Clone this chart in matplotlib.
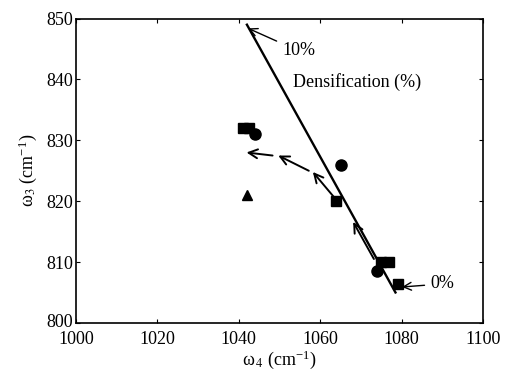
import matplotlib
matplotlib.use('Agg')
import matplotlib.pyplot as plt
import matplotlib.transforms as mtransforms

plt.rcParams['font.family'] = ['Liberation Serif', 'DejaVu Serif']
plt.rcParams['mathtext.fontset'] = 'stix'

# data
sq_x = [1041, 1042.5, 1064, 1075, 1077, 1079]
sq_y = [832, 832, 820, 810, 810, 806.4]
circ_x = [1044, 1065, 1074]
circ_y = [831, 826, 808.5]
tri_x = [1042]
tri_y = [821]

fit_x = [1042, 1078.5]
fit_y = [849, 805]

# arrows: (tail x, tail y, head x, head y)
path_arrows = [
    (1073.2, 810.5, 1068.1, 816.6),
    (1063.6, 820.5, 1058.2, 824.8),
    (1057.2, 825.0, 1049.7, 827.5),
    (1048.3, 827.5, 1041.9, 828.0),
]

fig = plt.figure(figsize=(5.1, 3.72), dpi=100)
ax = fig.add_axes([0.149, 0.132, 0.798, 0.818])

ax.plot(fit_x, fit_y, color='black', lw=1.7)
ax.plot(sq_x, sq_y, 's', color='black', ms=7.5, ls='none')
ax.plot(circ_x, circ_y, 'o', color='black', ms=8, ls='none')
ax.plot(tri_x, tri_y, '^', color='black', ms=7.5, ls='none')

for x0, y0, x1, y1 in path_arrows:
    ax.annotate('', xy=(x1, y1), xytext=(x0, y0),
                arrowprops=dict(arrowstyle='->', color='black', lw=1.4,
                                mutation_scale=16, shrinkA=0, shrinkB=0))

ax.annotate('10%', xy=(1042.3, 848.4), xytext=(1050.6, 844.7),
            fontsize=13, va='center', ha='left',
            arrowprops=dict(arrowstyle='->', color='black', lw=1.0,
                            mutation_scale=14, shrinkA=2, shrinkB=0))
ax.annotate('0%', xy=(1080.1, 805.9), xytext=(1087, 806.4),
            fontsize=13, va='center', ha='left',
            arrowprops=dict(arrowstyle='->', color='black', lw=1.0,
                            mutation_scale=14, shrinkA=2, shrinkB=0))
ax.text(1053.3, 839.5, 'Densification (%)', fontsize=13, va='center', ha='left')

ax.set_xlim(1000, 1100)
ax.set_ylim(800, 850)
ax.set_xticks(range(1000, 1101, 20))
ax.set_yticks(range(800, 851, 10))
ax.tick_params(direction='in', top=True, right=True, length=3, labelsize=13)
ax.tick_params(axis='x', pad=6)
ax.tick_params(axis='y', pad=2)
for s in ax.spines.values():
    s.set_linewidth(1.2)

# nudge the 800 label up a little so it clears 1000
lab = ax.get_yticklabels()[0]
lab.set_transform(lab.get_transform() + mtransforms.ScaledTranslation(0, 2 / 72, fig.dpi_scale_trans))

ax.set_xlabel('ω$_{\\,4}$ (cm$^{\\mathregular{-1}}$)', fontsize=13, labelpad=0)
ax.set_ylabel('ω$_3$ (cm$^{\\mathregular{-1}}$)', fontsize=13, labelpad=5)

fig.savefig('out.png', dpi=100)
